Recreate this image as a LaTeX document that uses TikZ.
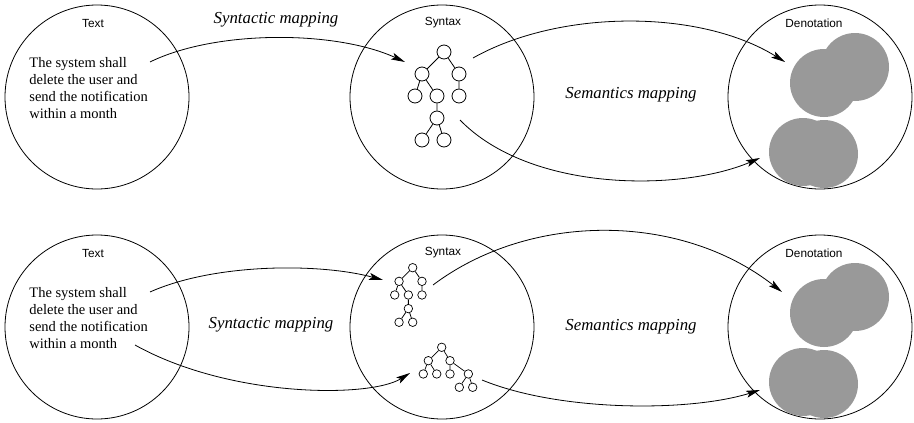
\documentclass[tikz,border=0pt]{standalone}
\usepackage{fontspec}
\setmainfont{Liberation Serif}
\setsansfont{Liberation Sans}
\usepackage{tikz}
\usetikzlibrary{arrows.meta}
\definecolor{blobGray}{HTML}{999999}
% a small parse tree, node names start with #1
\newcommand{\synTree}[2]{%
  \node[#2] (#1r) at (0,0) {};
  \node[#2] (#1a) at (-22,22) {};
  \node[#2] (#1b) at (15,22) {};
  \node[#2] (#1c) at (-29,44) {};
  \node[#2] (#1d) at (-7,44) {};
  \node[#2] (#1e) at (15,44) {};
  \node[#2] (#1f) at (-7,66) {};
  \node[#2] (#1g) at (-22,88) {};
  \node[#2] (#1h) at (0,88) {};
  \draw (#1r) -- (#1a) (#1r) -- (#1b) (#1a) -- (#1c) (#1a) -- (#1d)
        (#1b) -- (#1e) (#1d) -- (#1f) (#1f) -- (#1g) (#1f) -- (#1h);}

\begin{document}
\begin{tikzpicture}[x=1pt, y=-1pt, line width=0.8pt,
  >={Stealth[length=14pt, width=7pt, inset=3pt]},
  world/.style={draw, circle, minimum size=184pt, inner sep=0pt},
  title/.style={font=\sffamily\fontsize{11.8}{13}\selectfont},
  req/.style={font=\fontsize{14.5}{17}\selectfont, align=left, anchor=west, inner sep=0pt},
  maplbl/.style={font=\itshape\fontsize{16.8}{19}\selectfont},
  tbig/.style={draw, circle, inner sep=0pt, minimum size=14pt},
  tsmall/.style={draw, circle, inner sep=0pt, minimum size=8.5pt, line width=0.7pt},
  blob/.style={fill=blobGray}]
  \useasboundingbox (0,0) rectangle (914,423);

  % the three worlds, twice
  \foreach \r/\dy in {1/0, 2/230} {
    \node[world] (text\r) at (97,97+\dy) {};
    \node[world] (syn\r) at (442,97+\dy) {};
    \node[world] (den\r) at (820,97+\dy) {};
    \node[title] (textlbl\r) at (93,23+\dy) {Text};
    \node[title] (synlbl\r) at (443,23+\dy) {Syntax};
    \node[title] (denlbl\r) at (814,23+\dy) {Denotation};
    \node[req] (req\r) at (29,88+\dy) {The system shall\\delete the user and\\send the notification\\within a month};
    \fill[blob] (855,67+\dy) circle[radius=34pt];
    \fill[blob] (824,83+\dy) circle[radius=34pt];
    \fill[blob] (803,152+\dy) circle[radius=34pt];
    \fill[blob] (824,154+\dy) circle[radius=34pt];
  }

  % trees
  \begin{scope}[shift={(444,52)}]
    \synTree{ta}{tbig}
  \end{scope}
  \begin{scope}[shift={(412.7,267.7)}, scale=0.62]
    \synTree{tb}{tsmall}
  \end{scope}
  \begin{scope}[shift={(441.7,347.3)}, scale=0.62]
    \node[tsmall] (tcr) at (0,0) {};
    \node[tsmall] (tca) at (-21.6,21.6) {};
    \node[tsmall] (tcb) at (13.4,21.6) {};
    \node[tsmall] (tcc) at (-29.7,43) {};
    \node[tsmall] (tcd) at (-8,43) {};
    \node[tsmall] (tce) at (13.4,43) {};
    \node[tsmall] (tcf) at (43,43) {};
    \node[tsmall] (tcg) at (28.4,64.5) {};
    \node[tsmall] (tch) at (50,64.5) {};
    \draw[line width=0.7pt] (tcr) -- (tca) (tcr) -- (tcb) (tca) -- (tcc) (tca) -- (tcd)
          (tcb) -- (tce) (tcb) -- (tcf) (tcf) -- (tcg) (tcf) -- (tch);
  \end{scope}

  % mapping labels
  \node[maplbl] (synmap1) at (276,20) {Syntactic mapping};
  \node[maplbl] (semmap1) at (631,95) {Semantics mapping};
  \node[maplbl] (synmap2) at (271,325) {Syntactic mapping};
  \node[maplbl] (semmap2) at (631,327) {Semantics mapping};

  % arrow ends
  \coordinate (p1) at (150,62);   \coordinate (q1) at (405,62);
  \coordinate (p2) at (473,58);   \coordinate (q2) at (785,62);
  \coordinate (p3) at (460,120);  \coordinate (q3) at (760,158);
  \coordinate (p4) at (150,292);  \coordinate (q4) at (383,280);
  \coordinate (p5) at (135,345);  \coordinate (q5) at (410,373);
  \coordinate (p6) at (433,285);  \coordinate (q6) at (782,292);
  \coordinate (p7) at (482,380);  \coordinate (q7) at (760,390);

  \draw[->] (p1) .. controls (215,30) and (335,30) .. (q1);
  \draw[->] (p2) .. controls (560,9) and (700,9) .. (q2);
  \draw[->] (p3) .. controls (530,192) and (680,192) .. (q3);
  \draw[->] (p4) .. controls (215,263) and (320,263) .. (q4);
  \draw[->] (p5) .. controls (230,398) and (370,398) .. (q5);
  \draw[->] (p6) .. controls (530,212) and (680,212) .. (q6);
  \draw[->] (p7) .. controls (560,412) and (690,412) .. (q7);
\end{tikzpicture}
\end{document}
